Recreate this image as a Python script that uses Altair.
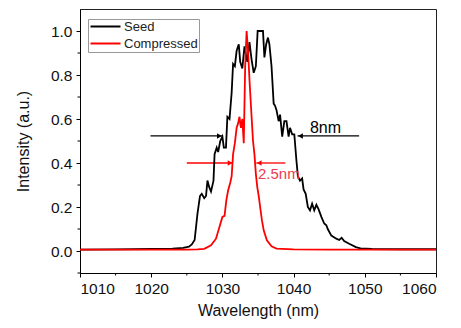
import altair as alt
import pandas as pd

# ---- data ----
seed_wl = [1010, 1015, 1020, 1023, 1024.5, 1025.3, 1025.7, 1026.1, 1026.5, 1026.85,
           1027.1, 1027.45, 1027.7, 1027.9, 1028.15, 1028.4, 1028.75, 1028.9, 1029.2, 1029.4,
           1029.7, 1030.0, 1030.2, 1030.5, 1030.7, 1031.0, 1031.3, 1031.5, 1031.75, 1032.0,
           1032.3, 1032.5, 1032.8, 1033.1, 1033.5, 1033.8, 1034.1, 1034.4, 1034.7, 1034.95,
           1035.7, 1035.9, 1036.15, 1036.4, 1036.6, 1036.9, 1037.2, 1037.4, 1037.6, 1037.9,
           1038.1, 1038.4, 1038.7, 1039.0, 1039.3, 1039.5, 1039.8, 1040.1, 1040.4, 1040.6,
           1040.9, 1041.2, 1041.4, 1041.7, 1042.0, 1042.3, 1042.6, 1042.9, 1043.2, 1043.5,
           1043.9, 1044.3, 1044.6, 1044.8, 1045.3, 1046.0, 1046.4, 1046.75, 1047.1, 1047.8,
           1048.75, 1049.4, 1051, 1055, 1060]
seed_val = [0.006, 0.007, 0.009, 0.011, 0.014, 0.02, 0.03, 0.05, 0.17, 0.25,
            0.26, 0.24, 0.25, 0.32, 0.29, 0.27, 0.32, 0.44, 0.47, 0.45,
            0.50, 0.52, 0.47, 0.47, 0.61, 0.60, 0.72, 0.85, 0.84, 0.91,
            0.94, 0.86, 0.83, 0.93, 0.86, 0.95, 0.87, 0.81, 0.84, 1.0,
            1.0, 0.88, 0.94, 0.97, 0.94, 0.84, 0.67, 0.66, 0.64, 0.59,
            0.62, 0.52, 0.59, 0.59, 0.52, 0.56, 0.53, 0.53, 0.41, 0.34,
            0.32, 0.33, 0.28, 0.26, 0.20, 0.185, 0.215, 0.185, 0.21, 0.19,
            0.155, 0.125, 0.117, 0.10, 0.07, 0.056, 0.05, 0.06, 0.045, 0.033,
            0.018, 0.012, 0.009, 0.008, 0.008]

comp_wl = [1010, 1015, 1020, 1025, 1026.5, 1027.45, 1028.4, 1029.1, 1029.5, 1030.0,
           1030.3, 1030.55, 1030.8, 1031.1, 1031.3, 1031.5, 1031.75, 1032.0, 1032.2, 1032.4,
           1032.6, 1032.8, 1033.0, 1033.2, 1033.4, 1033.6, 1033.85, 1034.1, 1034.3, 1034.5,
           1034.7, 1034.9, 1035.1, 1035.3, 1035.55, 1035.8, 1036.25, 1036.9, 1037.6, 1040,
           1045, 1050, 1055, 1060]
comp_val = [0.006, 0.006, 0.006, 0.006, 0.007, 0.01, 0.026, 0.056, 0.10, 0.155,
            0.16, 0.23, 0.275, 0.31, 0.34, 0.44, 0.49, 0.56, 0.58, 0.61,
            0.56, 0.60, 0.49, 0.84, 1.0, 0.91, 0.75, 0.61, 0.50, 0.44,
            0.35, 0.29, 0.25, 0.20, 0.14, 0.094, 0.049, 0.021, 0.011, 0.007,
            0.006, 0.006, 0.006, 0.006]

series_names = ["Seed", "Compressed"]
series_colors = ["#000000", "#ff0000"]

x_major = [1010, 1020, 1030, 1040, 1050, 1060]
x_minor = [1015, 1025, 1035, 1045, 1055]
y_major = [0.0, 0.2, 0.4, 0.6, 0.8, 1.0]
y_minor = [-0.1, 0.1, 0.3, 0.5, 0.7, 0.9]

# FWHM arrows: start, end (tip), level, colour, direction
arrow_start = [1019.9, 1049.2, 1025.0, 1038.85]
arrow_end = [1030.0, 1040.55, 1031.5, 1034.75]
arrow_level = [0.523, 0.523, 0.40, 0.40]
arrow_color = ["#000000", "#000000", "#ff0000", "#ff0000"]
arrow_dir = ["right", "left", "right", "left"]

label_text = ["8nm", "2.5nm"]
label_x = [1042.3, 1035.0]
label_y = [0.557, 0.349]
label_color = ["#000000", "#ee3a50"]
label_size = [16, 15]

FONT = "Liberation Sans"
W, H = 356, 264

df = pd.concat([
    pd.DataFrame({"wl": seed_wl, "val": seed_val, "series": series_names[0], "order": 0}),
    pd.DataFrame({"wl": comp_wl, "val": comp_val, "series": series_names[1], "order": 1}),
])

xscale = alt.Scale(domain=[1010, 1060], nice=False, zero=False)
yscale = alt.Scale(domain=[-0.1, 1.1], nice=False, zero=False)

lines = alt.Chart(df).mark_line(strokeWidth=1.8, clip=True).encode(
    x=alt.X("wl:Q", scale=xscale,
            axis=alt.Axis(values=x_major, title="Wavelength (nm)", grid=False, format="d",
                          tickSize=4, labelPadding=4, titlePadding=6)),
    y=alt.Y("val:Q", scale=yscale,
            axis=alt.Axis(values=y_major, title="Intensity (a.u.)", grid=False, format=".1f",
                          tickSize=4, labelPadding=4, titlePadding=19)),
    color=alt.Color("series:N",
                    scale=alt.Scale(domain=series_names, range=series_colors),
                    legend=alt.Legend(orient="none", legendX=8, legendY=10, title=None,
                                      symbolType="M-1,0L5,0", symbolSize=100,
                                      symbolStrokeWidth=2,
                                      labelFontSize=13, labelFont=FONT, labelColor="#222",
                                      strokeColor="#999", fillColor="white", padding=1,
                                      rowPadding=3, labelOffset=22)),
    detail="series:N",
    order="order:Q",
)

arr_df = pd.DataFrame({"x0": arrow_start, "x1": arrow_end, "y": arrow_level,
                       "c": arrow_color, "d": arrow_dir})
arrow_lines = alt.Chart(arr_df).mark_rule(strokeWidth=1.3).encode(
    x="x0:Q", x2="x1:Q", y="y:Q", color=alt.Color("c:N", scale=None))
heads_r = alt.Chart(arr_df).transform_filter("datum.d == 'right'").mark_point(
    shape="triangle-right", filled=True, size=30, opacity=1).encode(
    x="x1:Q", y="y:Q", color=alt.Color("c:N", scale=None), xOffset=alt.value(-3))
heads_l = alt.Chart(arr_df).transform_filter("datum.d == 'left'").mark_point(
    shape="triangle-left", filled=True, size=30, opacity=1).encode(
    x="x1:Q", y="y:Q", color=alt.Color("c:N", scale=None), xOffset=alt.value(3))

lab_df = pd.DataFrame({"t": label_text, "x": label_x, "y": label_y, "c": label_color, "s": label_size})
labels = alt.Chart(lab_df).mark_text(align="left", baseline="middle", font=FONT).encode(
    x="x:Q", y="y:Q", text="t:N", color=alt.Color("c:N", scale=None),
    size=alt.Size("s:Q", scale=None))

xmin_df = pd.DataFrame({"x": x_minor})
xminor = alt.Chart(xmin_df).mark_rule(color="#000", strokeWidth=1).encode(
    x="x:Q", y=alt.value(H), y2=alt.value(H + 2.5))
ymin_df = pd.DataFrame({"y": y_minor})
yminor = alt.Chart(ymin_df).mark_rule(color="#000", strokeWidth=1).encode(
    y="y:Q", x=alt.value(0), x2=alt.value(-2.5))

chart = alt.layer(xminor, yminor, arrow_lines, heads_r, heads_l, lines, labels).properties(
    width=W, height=H,
    background="white",
    autosize=alt.AutoSizeParams(type="none"),
    padding={"left": 72, "top": 1, "right": 17, "bottom": 47},
).configure_view(stroke="#222", strokeWidth=1).configure_axis(
    domainColor="#000", tickColor="#000", labelColor="#111", titleColor="#111",
    labelFont=FONT, titleFont=FONT, labelFontSize=15.5, titleFontSize=16,
    titleFontWeight="normal", domainWidth=1, tickWidth=1,
)

chart.save("out.html", embed_options={"renderer": "svg", "actions": False})
